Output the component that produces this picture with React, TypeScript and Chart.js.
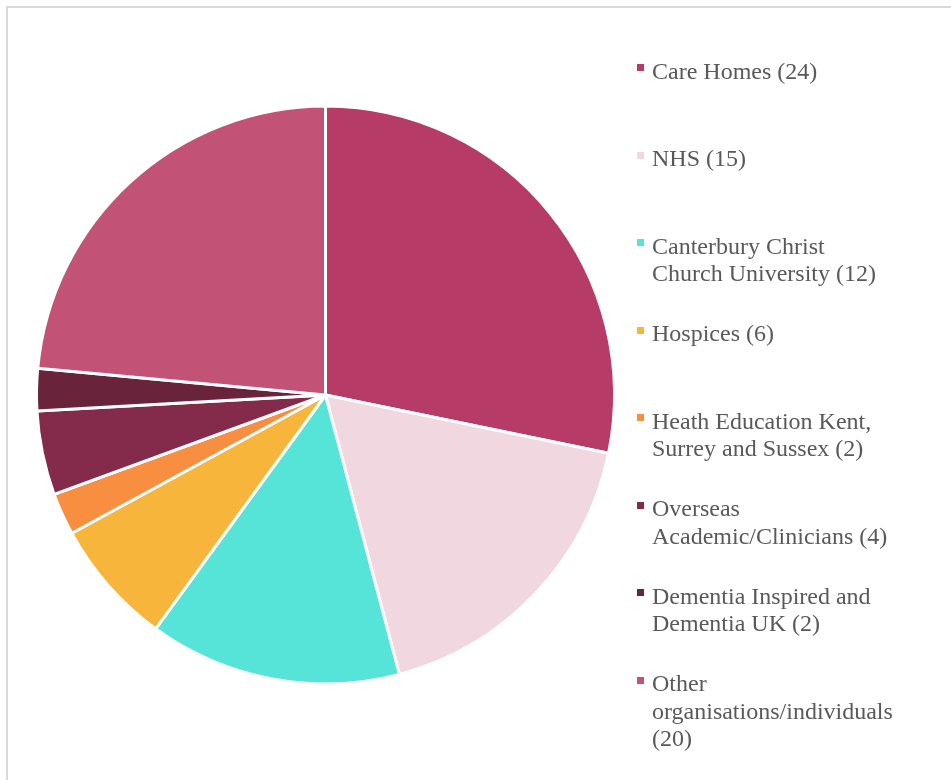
import React, { useEffect, useRef } from "react";
import { Chart, registerables } from "chart.js";

Chart.register(...registerables);

const categories: string[] = [
  "Care Homes",
  "NHS",
  "Canterbury Christ Church University",
  "Hospices",
  "Heath Education Kent, Surrey and Sussex",
  "Overseas Academic/Clinicians",
  "Dementia Inspired and Dementia UK",
  "Other organisations/individuals",
];
const values: number[] = [24, 15, 12, 6, 2, 4, 2, 20];
const colors: string[] = [
  "#b63b66",
  "#f0d7e0",
  "#56e3d8",
  "#f8b53b",
  "#f88e3f",
  "#842b4c",
  "#69243c",
  "#c25276",
];
// legend text broken into lines as in the reference
const legendLines: string[][] = [
  ["Care Homes (24)"],
  ["NHS (15)"],
  ["Canterbury Christ", "Church University (12)"],
  ["Hospices (6)"],
  ["Heath Education Kent,", "Surrey and Sussex (2)"],
  ["Overseas", "Academic/Clinicians (4)"],
  ["Dementia Inspired and", "Dementia UK (2)"],
  ["Other", "organisations/individuals", "(20)"],
];

const FONT = '"Liberation Serif", "Times New Roman", serif';

export default function App() {
  const canvasRef = useRef<HTMLCanvasElement | null>(null);

  useEffect(() => {
    const canvas = canvasRef.current;
    if (!canvas) return;
    const chart = new Chart(canvas, {
      type: "pie",
      data: {
        labels: categories,
        datasets: [
          {
            data: values,
            backgroundColor: colors,
            borderColor: "#ffffff",
            borderWidth: 3,
          },
        ],
      },
      options: {
        responsive: false,
        animation: false,
        devicePixelRatio: 1,
        layout: {
          padding: { left: 35, top: 104.5, right: 335, bottom: 94.5 },
        },
        plugins: {
          legend: { display: false },
          tooltip: { enabled: false },
        },
      },
    });
    return () => chart.destroy();
  }, []);

  const LH = 27.5;
  const FS = 24;
  const firstBaseline = 79.5;
  const step = 87.5;
  const baselineOffset = (LH - FS * 1.107) / 2 + FS * 0.891;

  return (
    <div
      style={{
        position: "absolute",
        left: 0,
        top: 0,
        width: 951,
        height: 780,
        overflow: "hidden",
        background: "#ffffff",
      }}
    >
      <div
        style={{
          position: "absolute",
          left: 6,
          top: 6,
          width: 945,
          height: 774,
          borderLeft: "2px solid #d9d9d9",
          borderTop: "2px solid #d9d9d9",
          boxSizing: "border-box",
        }}
      />
      <canvas
        ref={canvasRef}
        width={951}
        height={780}
        style={{ position: "absolute", left: 0, top: 0, width: 951, height: 780 }}
      />
      {legendLines.map((lines, i) => {
        const baseline = firstBaseline + step * i;
        return (
          <div key={i}>
            <div
              style={{
                position: "absolute",
                left: 637,
                top: baseline - 15.5,
                width: 7,
                height: 7,
                background: colors[i],
              }}
            />
            <div
              style={{
                position: "absolute",
                left: 652,
                top: baseline - baselineOffset,
                fontFamily: FONT,
                fontSize: FS,
                lineHeight: LH + "px",
                color: "#595959",
                whiteSpace: "nowrap",
              }}
            >
              {lines.map((l, j) => (
                <div key={j}>{l}</div>
              ))}
            </div>
          </div>
        );
      })}
    </div>
  );
}
